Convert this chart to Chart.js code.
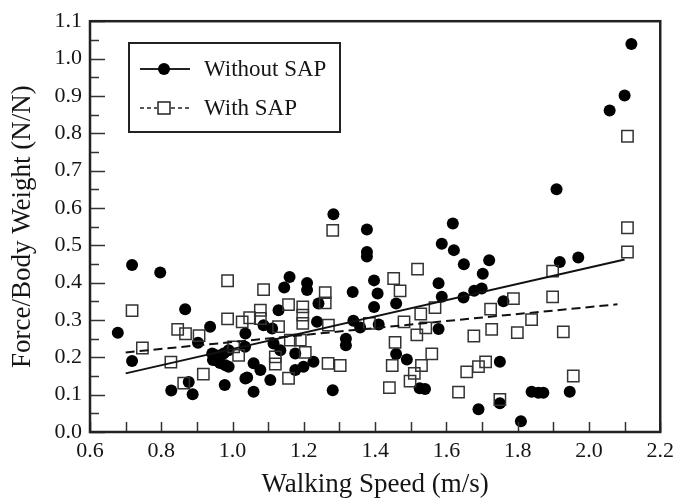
<!DOCTYPE html>
<html>
<head>
<meta charset="utf-8">
<style>
html,body{margin:0;padding:0;background:#fff;}
canvas{display:block;}
</style>
</head>
<body>
<canvas id="c" width="680" height="498"></canvas>
<script src="https://cdn.jsdelivr.net/npm/chart.js@4/dist/chart.umd.min.js"></script>
<script>
// ---- data ----
const seriesNames = ['Without SAP', 'With SAP'];

const withoutSpeed = [0.678,0.718,0.718,0.797,0.828,0.867,0.877,0.888,0.903,0.937,
  0.943,0.945,0.955,0.958,0.965,0.975,0.978,0.980,0.989,0.989,
  1.035,1.036,1.036,1.041,1.059,1.059,1.078,1.087,1.106,1.111,
  1.115,1.129,1.134,1.145,1.160,1.176,1.176,1.199,1.209,1.209,
  1.227,1.237,1.241,1.283,1.281,1.318,1.318,1.337,1.339,1.358,
  1.377,1.377,1.377,1.397,1.407,1.397,1.410,1.459,1.459,1.489,
  1.525,1.540,1.587,1.618,1.621,1.578,1.587,1.578,1.649,1.720,
  1.702,1.699,1.678,1.648,1.760,1.750,1.750,1.690,1.809,1.839,
  1.858,1.872,1.946,1.909,1.918,1.970,2.058,2.100,2.119];
const withoutForce = [0.266,0.447,0.190,0.427,0.111,0.329,0.134,0.101,0.239,0.282,
  0.210,0.193,0.205,0.190,0.185,0.210,0.126,0.179,0.175,0.219,
  0.228,0.264,0.143,0.146,0.184,0.108,0.166,0.286,0.139,0.277,
  0.237,0.326,0.219,0.387,0.415,0.210,0.166,0.175,0.399,0.380,
  0.188,0.295,0.344,0.583,0.112,0.250,0.232,0.375,0.298,0.280,
  0.542,0.470,0.482,0.406,0.371,0.335,0.288,0.344,0.209,0.194,
  0.117,0.115,0.504,0.558,0.487,0.398,0.362,0.276,0.449,0.460,
  0.424,0.384,0.378,0.360,0.350,0.188,0.077,0.061,0.029,0.108,
  0.105,0.105,0.108,0.650,0.455,0.467,0.861,0.901,1.039];

const withSpeed = [0.718,0.747,0.827,0.846,0.868,0.863,0.906,0.918,0.986,0.986,
  1.003,1.017,1.027,1.048,1.078,1.078,1.087,1.129,1.120,1.120,
  1.157,1.157,1.162,1.190,1.197,1.197,1.197,1.204,1.260,1.260,
  1.269,1.268,1.281,1.302,1.384,1.452,1.470,1.519,1.568,1.528,
  1.481,1.542,1.517,1.456,1.448,1.559,1.530,1.510,1.498,1.440,
  1.634,1.657,1.690,1.710,1.677,1.727,1.724,1.750,1.788,1.799,
  1.839,1.898,1.898,1.928,1.956,2.108,2.108,2.108];
const withForce = [0.325,0.225,0.187,0.275,0.263,0.131,0.258,0.155,0.405,0.303,
  0.228,0.205,0.295,0.306,0.326,0.304,0.381,0.282,0.201,0.182,
  0.144,0.341,0.246,0.246,0.335,0.313,0.291,0.213,0.373,0.346,
  0.286,0.184,0.540,0.178,0.291,0.411,0.378,0.436,0.333,0.316,
  0.295,0.279,0.260,0.240,0.178,0.209,0.178,0.157,0.136,0.119,
  0.107,0.161,0.175,0.188,0.257,0.275,0.329,0.087,0.357,0.266,
  0.301,0.362,0.431,0.268,0.150,0.482,0.547,0.792];

// regression line end points
const fitWithoutSpeed = [0.70, 2.10];
const fitWithoutForce = [0.157, 0.462];
const fitWithSpeed = [0.70, 2.08];
const fitWithForce = [0.213, 0.342];

// tick labels
const xTickValues = [0.6,0.8,1.0,1.2,1.4,1.6,1.8,2.0,2.2];
const yTickValues = [0.0,0.1,0.2,0.3,0.4,0.5,0.6,0.7,0.8,0.9,1.0,1.1];
const xTitle = 'Walking Speed (m/s)';
const yTitle = 'Force/Body Weight (N/N)';

// ---- build ----
const pts = (xs, ys) => xs.map((x, i) => ({x: x, y: ys[i]}));
const FONT = '"Liberation Serif", "Times New Roman", serif';
const INK = '#151515';

const framePlugin = {
  id: 'frame',
  afterDraw(chart) {
    const {ctx, chartArea: a, scales: {x, y}} = chart;
    ctx.save();
    // inward tick marks
    ctx.strokeStyle = '#333';
    ctx.lineWidth = 1.5;
    ctx.beginPath();
    for (let k = 6; k <= 22; k++) {
      const px = Math.round(x.getPixelForValue(k / 10)) + 0.5;
      ctx.moveTo(px, a.bottom);
      ctx.lineTo(px, a.bottom - 10);
    }
    for (let k = 0; k <= 22; k++) {
      const py = Math.round(y.getPixelForValue(k * 0.05)) + 0.5;
      ctx.moveTo(a.left, py);
      ctx.lineTo(a.left + (k % 2 === 0 ? 15 : 9), py);
    }
    ctx.stroke();
    // frame
    ctx.strokeStyle = '#222';
    ctx.lineWidth = 2.5;
    ctx.strokeRect(a.left, a.top, a.right - a.left, a.bottom - a.top);

    // legend
    const ds = chart.data.datasets;
    ctx.lineWidth = 2;
    ctx.strokeStyle = '#222';
    ctx.fillStyle = '#fff';
    ctx.fillRect(129, 43, 211, 89);
    ctx.strokeRect(129, 43, 211, 89);
    ctx.font = '23px ' + FONT;
    ctx.textBaseline = 'middle';
    ctx.textAlign = 'left';
    // item 1
    ctx.beginPath();
    ctx.moveTo(140, 69); ctx.lineTo(190, 69);
    ctx.strokeStyle = '#222'; ctx.lineWidth = 2; ctx.setLineDash([]);
    ctx.stroke();
    ctx.beginPath(); ctx.arc(164, 69, 6, 0, Math.PI * 2);
    ctx.fillStyle = '#000'; ctx.fill();
    ctx.fillStyle = INK;
    ctx.fillText(ds[0].label, 204, 70);
    // item 2
    ctx.beginPath();
    ctx.setLineDash([4, 3]);
    ctx.moveTo(140, 108); ctx.lineTo(157, 108);
    ctx.moveTo(171, 108); ctx.lineTo(190, 108);
    ctx.lineWidth = 1.5;
    ctx.stroke();
    ctx.setLineDash([]);
    ctx.fillStyle = '#fff';
    ctx.fillRect(158, 102, 12, 12);
    ctx.strokeRect(158, 102, 12, 12);
    ctx.fillStyle = INK;
    ctx.fillText(ds[1].label, 204, 109);
    ctx.restore();
  }
};

new Chart(document.getElementById('c'), {
  type: 'scatter',
  data: {
    datasets: [
      {label: seriesNames[0], data: pts(withoutSpeed, withoutForce), pointStyle: 'circle',
       pointRadius: 6, backgroundColor: '#000', borderColor: '#000', borderWidth: 0, order: 2},
      {label: seriesNames[1], data: pts(withSpeed, withForce), pointStyle: 'rect',
       pointRadius: 8, backgroundColor: 'rgba(255,255,255,0)', borderColor: '#333', borderWidth: 1.5, order: 1},
      {label: 'fit1', type: 'line', data: pts(fitWithoutSpeed, fitWithoutForce), borderColor: '#111',
       borderWidth: 2, pointRadius: 0, fill: false, order: 0},
      {label: 'fit2', type: 'line', data: pts(fitWithSpeed, fitWithForce), borderColor: '#111',
       borderWidth: 2, borderDash: [9, 5], pointRadius: 0, fill: false, order: 0}
    ]
  },
  options: {
    responsive: false,
    animation: false,
    devicePixelRatio: 1,
    layout: {padding: {left: 0, right: 18, top: 21, bottom: 0}},
    plugins: {legend: {display: false}, tooltip: {enabled: false}},
    scales: {
      x: {
        type: 'linear', min: 0.6, max: 2.2,
        afterBuildTicks: s => { s.ticks = xTickValues.map(v => ({value: v})); },
        afterFit: s => { s.height = 66; },
        ticks: {callback: v => Number(v).toFixed(1), font: {family: FONT, size: 22}, color: INK,
                padding: 6, maxRotation: 0, autoSkip: false},
        grid: {display: false, drawTicks: false},
        border: {display: false},
        title: {display: true, text: xTitle, font: {family: FONT, size: 27, lineHeight: 1},
                color: INK, padding: {top: 0, bottom: 0}}
      },
      y: {
        type: 'linear', min: 0, max: 1.1,
        afterBuildTicks: s => { s.ticks = yTickValues.map(v => ({value: v})); },
        afterFit: s => { s.width = 90; },
        ticks: {callback: v => Number(v).toFixed(1), font: {family: FONT, size: 22}, color: INK,
                padding: 8, autoSkip: false},
        grid: {display: false, drawTicks: false},
        border: {display: false},
        title: {display: true, text: yTitle, font: {family: FONT, size: 27, lineHeight: 1},
                color: INK, padding: {top: 9, bottom: 0}}
      }
    }
  },
  plugins: [framePlugin]
});
</script>
</body>
</html>
